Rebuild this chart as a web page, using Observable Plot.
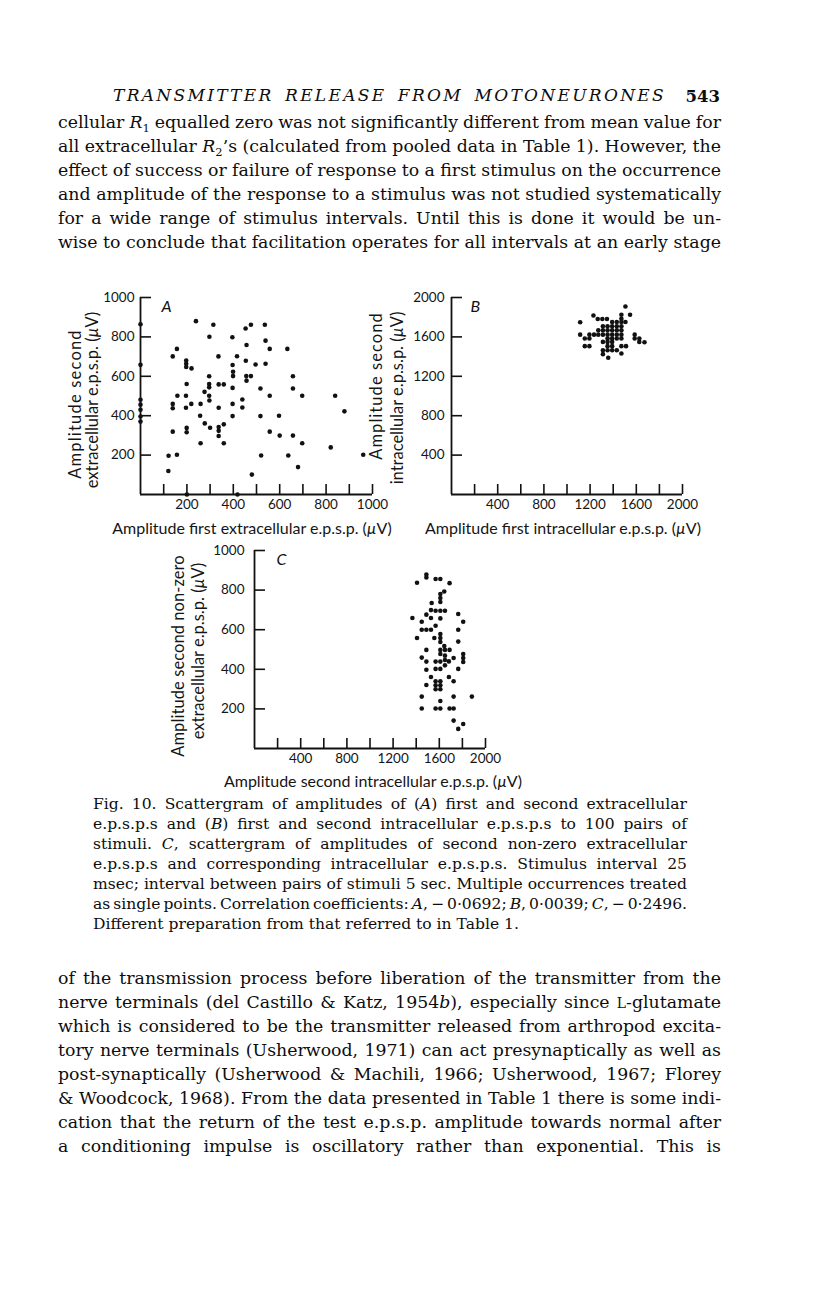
<!DOCTYPE html>
<html><head><meta charset="utf-8">
<script src="https://cdn.jsdelivr.net/npm/d3@7"></script>
<script src="https://cdn.jsdelivr.net/npm/@observablehq/plot@0.6"></script>
<style>
html,body{margin:0;padding:0;background:#fff;}
#page{position:relative;width:816px;height:1296px;overflow:hidden;background:#fff;color:#111;}
.ln{position:absolute;white-space:nowrap;font-family:"DejaVu Serif",serif;font-size:16px;color:#0d0d0d;}
.hdr{font-style:italic;}
.num{font-weight:bold;font-size:16px;}
.sans{position:absolute;white-space:nowrap;font-family:Lato,sans-serif;font-size:16px;line-height:18px;color:#151515;}
sub{font-size:0.66em;vertical-align:-0.32em;line-height:0;}
</style></head>
<body><div id="page"></div>
<script>
// ---------- data ----------
const pointsA = [[239,880],[314,862],[297,801],[396,798],[453,843],[476,862],[536,862],[539,781],[457,759],[557,739],[633,739],[157,739],[139,701],[336,701],[416,702],[197,680],[197,664],[197,647],[220,640],[454,679],[496,660],[539,664],[397,657],[399,623],[399,601],[456,601],[476,601],[457,578],[296,600],[296,561],[296,544],[199,561],[337,559],[359,559],[276,521],[296,501],[297,477],[159,501],[196,501],[139,460],[139,438],[196,440],[219,460],[259,460],[337,440],[397,541],[397,460],[439,482],[439,442],[517,538],[557,501],[657,538],[657,600],[697,501],[839,501],[879,422],[257,400],[397,398],[517,398],[597,400],[277,361],[300,339],[337,343],[337,323],[337,297],[359,356],[139,319],[199,338],[199,316],[259,260],[359,260],[557,319],[600,299],[657,299],[697,260],[820,239],[121,197],[157,202],[520,198],[637,198],[960,202],[120,119],[480,101],[679,139],[0,864],[0,658],[0,481],[0,456],[0,430],[0,396],[0,370],[200,0],[418,0]];
const pointsB = [[1506,1909],[1546,1825],[1229,1818],[1114,1748],[1266,1781],[1306,1781],[1346,1781],[1471,1825],[1471,1785],[1471,1751],[1391,1751],[1431,1751],[1506,1751],[1311,1707],[1351,1707],[1391,1707],[1431,1707],[1471,1707],[1271,1667],[1311,1667],[1351,1667],[1391,1667],[1431,1667],[1471,1667],[1114,1623],[1194,1623],[1234,1623],[1271,1623],[1311,1623],[1351,1623],[1391,1623],[1431,1623],[1471,1623],[1154,1583],[1194,1583],[1351,1583],[1391,1583],[1431,1583],[1471,1583],[1586,1623],[1586,1583],[1626,1583],[1626,1549],[1671,1546],[1311,1549],[1351,1549],[1391,1549],[1154,1506],[1194,1506],[1351,1506],[1391,1506],[1471,1506],[1511,1506],[1311,1465],[1351,1465],[1391,1465],[1431,1465],[1311,1425],[1357,1388],[1471,1432]];
const pointsC = [[1488,879],[1488,864],[1407,837],[1568,856],[1609,856],[1689,835],[1643,793],[1609,780],[1609,760],[1609,740],[1534,735],[1528,699],[1568,696],[1609,696],[1649,696],[1488,676],[1528,659],[1609,657],[1764,679],[1367,659],[1807,640],[1448,640],[1448,600],[1488,600],[1528,600],[1568,620],[1609,578],[1609,558],[1609,538],[1407,558],[1557,558],[1764,600],[1764,540],[1643,518],[1488,498],[1609,498],[1649,498],[1689,498],[1609,477],[1448,459],[1488,439],[1568,439],[1609,439],[1649,469],[1649,447],[1649,420],[1683,440],[1724,457],[1807,477],[1807,457],[1807,437],[1568,402],[1609,402],[1488,398],[1764,402],[1528,361],[1683,361],[1724,340],[1488,321],[1568,340],[1609,340],[1568,319],[1609,319],[1568,299],[1609,299],[1448,262],[1609,240],[1724,262],[1882,262],[1448,202],[1568,202],[1609,202],[1689,202],[1724,202],[1724,141],[1807,124],[1764,99]];

const ticksA_x = [100,200,300,400,500,600,700,800,900,1000];
const labelsA_x = [200,400,600,800,1000];
const ticksA_y = [200,400,600,800,1000];
const ticksB_x = [200,400,600,800,1000,1200,1400,1600,1800,2000];
const labelsB_x = [400,800,1200,1600,2000];
const ticksB_y = [400,800,1200,1600,2000];
const ticksC_x = [200,400,600,800,1000,1200,1400,1600,1800,2000];
const labelsC_x = [400,800,1200,1600,2000];
const ticksC_y = [200,400,600,800,1000];

const headerText = "TRANSMITTER RELEASE FROM MOTONEURONES";
const pageNumber = "543";
const bodyTop = [
 "cellular <i>R</i><sub>1</sub> equalled zero was not significantly different from mean value for",
 "all extracellular <i>R</i><sub>2</sub>’s (calculated from pooled data in Table 1). However, the",
 "effect of success or failure of response to a first stimulus on the occurrence",
 "and amplitude of the response to a stimulus was not studied systematically",
 "for a wide range of stimulus intervals. Until this is done it would be un-",
 "wise to conclude that facilitation operates for all intervals at an early stage"];
const caption = [
 "Fig. 10. Scattergram of amplitudes of (<i>A</i>) first and second extracellular",
 "e.p.s.p.s and (<i>B</i>) first and second intracellular e.p.s.p.s to 100 pairs of",
 "stimuli. <i>C</i>, scattergram of amplitudes of second non-zero extracellular",
 "e.p.s.p.s and corresponding intracellular e.p.s.p.s. Stimulus interval 25",
 "msec; interval between pairs of stimuli 5 sec. Multiple occurrences treated",
 "as single points. Correlation coefficients: <i>A</i>, − 0·0692; <i>B</i>, 0·0039; <i>C</i>, − 0·2496.",
 "Different preparation from that referred to in Table 1."];
const bodyBottom = [
 "of the transmission process before liberation of the transmitter from the",
 "nerve terminals (del Castillo &amp; Katz, 1954<i>b</i>), especially since <span style=\"font-size:0.8em\">L</span>-glutamate",
 "which is considered to be the transmitter released from arthropod excita-",
 "tory nerve terminals (Usherwood, 1971) can act presynaptically as well as",
 "post-synaptically (Usherwood &amp; Machili, 1966; Usherwood, 1967; Florey",
 "&amp; Woodcock, 1968). From the data presented in Table 1 there is some indi-",
 "cation that the return of the test e.p.s.p. amplitude towards normal after",
 "a conditioning impulse is oscillatory rather than exponential. This is"];

// ---------- text helpers ----------
const page = document.getElementById("page");
function makeLine(html, cls, left) {
  const d = document.createElement("div");
  d.className = cls; d.innerHTML = html;
  d.style.left = left + "px";
  page.appendChild(d);
  return d;
}
function place(d, cy, fs) {
  d.style.fontSize = fs + "px";
  d.style.lineHeight = Math.round(fs * 1.25) + "px";
  d.style.top = (cy - fs * 1.25 / 2 - 1) + "px";
}
function justify(d, width) {
  d.style.wordSpacing = "0px";
  const w = d.getBoundingClientRect().width;
  const n = (d.textContent.match(/ /g) || []).length;
  if (n) d.style.wordSpacing = ((width - w) / n) + "px";
}
// lay out a group of justified lines sharing one font size
function block(groups, width, base, pct) {
  const all = [];
  groups.forEach(g => g.lines.forEach((t, i) => {
    const d = makeLine(t, "ln", g.left);
    d.style.fontSize = base + "px";
    all.push({d, cy: g.y0 + g.pitch * i, just: !(g.lastFree && i === g.lines.length - 1)});
  }));
  const ratios = all.filter(o => o.just).map(o => width / o.d.getBoundingClientRect().width).sort((a, b) => a - b);
  const fs = base * ratios[Math.floor(ratios.length * pct)];
  all.forEach(o => { place(o.d, o.cy, fs); if (o.just) justify(o.d, width); });
}

// header: spaced italic capitals
const hd = makeLine(headerText, "ln hdr", 113);
place(hd, 97, 17);
hd.style.letterSpacing = "2.3px";
justify(hd, 553);
const pn = makeLine(pageNumber, "ln num", 0);
place(pn, 97, 16.5);
pn.style.left = (720 - pn.getBoundingClientRect().width) + "px";

block([{lines: bodyTop, left: 58, y0: 123, pitch: 24},
       {lines: bodyBottom, left: 58, y0: 979, pitch: 24}], 663, 16, 0.25);
block([{lines: caption, left: 93, y0: 806, pitch: 20, lastFree: true}], 594, 14, 0.2);

// ---------- panels ----------
function panel(pts, o) {
  const innerW = o.width - o.ml - o.mr, innerH = o.height - o.mt - o.mb;
  const data = pts.map(([x, y]) => ({x, y}));
  const svg = Plot.plot({
    width: o.width, height: o.height,
    marginLeft: o.ml, marginRight: o.mr, marginTop: o.mt, marginBottom: o.mb,
    x: {domain: o.xDomain, label: null},
    y: {domain: o.yDomain, label: null},
    style: {fontFamily: "Lato, sans-serif", fontSize: "13.5px", color: "#151515", background: "transparent", overflow: "visible"},
    marks: [
      Plot.axisX(o.xLabels, {anchor: "bottom", tickSize: 0, tickPadding: o.xPad, tickFormat: d => String(d), label: null, fontSize: 13.5}),
      Plot.axisY(o.yTicks, {anchor: "left", tickSize: 0, tickPadding: o.yPad, tickFormat: d => String(d), label: null, fontSize: 13.5}),
      Plot.tickX(o.xTicks, {x: d => d, insetTop: innerH - 10, stroke: "#111", strokeWidth: 1.6}),
      Plot.tickY(o.yTicks, {y: d => d, insetRight: innerW - 11, stroke: "#111", strokeWidth: 1.6}),
      Plot.ruleX([o.xDomain[0]], {stroke: "#111", strokeWidth: 1.8}),
      Plot.ruleY([o.yDomain[0]], {stroke: "#111", strokeWidth: 1.8}),
      Plot.dot(data, {x: "x", y: "y", r: 2.3, fill: "#111", stroke: null}),
      Plot.text([o.letter], {text: d => d, frameAnchor: "top-left", dx: o.ldx, dy: o.ldy, fontStyle: "italic", fontSize: 16, fill: "#111"})
    ]
  });
  svg.style.position = "absolute";
  svg.style.left = o.left + "px";
  svg.style.top = o.top + "px";
  page.appendChild(svg);
}

panel(pointsA, {left: 40, top: 280, width: 347, height: 244, ml: 100, mr: 15, mt: 17, mb: 30,
  xDomain: [0, 1000], yDomain: [0, 1000], xTicks: ticksA_x, xLabels: labelsA_x, yTicks: ticksA_y,
  xPad: 5, yPad: 6, letter: "A", ldx: 21, ldy: 3});
panel(pointsB, {left: 406, top: 280, width: 296, height: 244, ml: 45, mr: 20, mt: 17, mb: 30,
  xDomain: [0, 2000], yDomain: [0, 2000], xTicks: ticksB_x, xLabels: labelsB_x, yTicks: ticksB_y,
  xPad: 5, yPad: 7, letter: "B", ldx: 19, ldy: 3});
panel(pointsC, {left: 204, top: 533, width: 301, height: 240, ml: 50, mr: 20, mt: 17, mb: 25,
  xDomain: [0, 2000], yDomain: [0, 1000], xTicks: ticksC_x, xLabels: labelsC_x, yTicks: ticksC_y,
  xPad: 5, yPad: 10, letter: "C", ldx: 22, ldy: 3});

// axis titles (optionally letter-spaced to a target length)
function addLabel(html, cx, cy, rot, fs, target) {
  const d = document.createElement("div");
  d.className = "sans"; d.innerHTML = html;
  d.style.fontSize = fs + "px";
  page.appendChild(d);
  if (target) {
    const w = d.offsetWidth, n = d.textContent.length;
    d.style.letterSpacing = ((target - w) / n) + "px";
  }
  d.style.left = cx + "px"; d.style.top = cy + "px";
  d.style.transform = "translate(-50%,-50%)" + (rot ? " rotate(-90deg)" : "");
}
addLabel("Amplitude first extracellular e.p.s.p. (<i>µ</i>V)", 252, 528, false, 16);
addLabel("Amplitude first intracellular e.p.s.p. (<i>µ</i>V)", 563, 528, false, 16);
addLabel("Amplitude second intracellular e.p.s.p. (<i>µ</i>V)", 373, 781, false, 16);
addLabel("Amplitude second", 75, 404, true, 16.5, 150);
addLabel("extracellular e.p.s.p. (<i>µ</i>V)", 92, 400, true, 16.5);
addLabel("Amplitude second", 376, 386, true, 16.5, 148);
addLabel("intracellular e.p.s.p. (<i>µ</i>V)", 397, 398, true, 16.5);
addLabel("Amplitude second non-zero", 178, 656, true, 16.5, 202);
addLabel("extracellular e.p.s.p. (<i>µ</i>V)", 198, 651, true, 16.5);
</script></body></html>
